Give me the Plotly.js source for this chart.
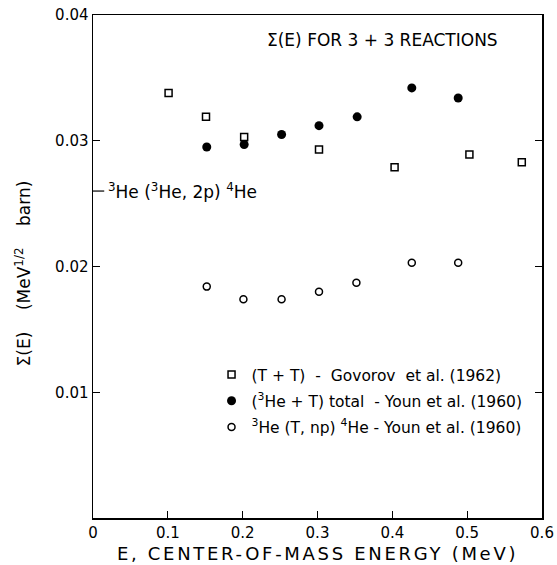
<!DOCTYPE html>
<html><head><meta charset="utf-8">
<script src="https://cdn.plot.ly/plotly-3.0.1.min.js"></script>
<style>html,body{margin:0;padding:0;background:#fff}
.xtitle{letter-spacing:2.7px}
</style>
</head><body>
<div id="chart" style="width:557px;height:565px"></div>
<script>
// Data
const ttEnergy = [0.101, 0.151, 0.202, 0.302, 0.403, 0.503, 0.573];
const ttSigma  = [0.0338, 0.0319, 0.0303, 0.0293, 0.0279, 0.0289, 0.0283];

const heTotEnergy = [0.152, 0.202, 0.252, 0.302, 0.353, 0.426, 0.488];
const heTotSigma  = [0.0295, 0.0297, 0.0305, 0.0312, 0.0319, 0.0342, 0.0334];

const npEnergy = [0.152, 0.201, 0.252, 0.302, 0.352, 0.426, 0.488];
const npSigma  = [0.0184, 0.0174, 0.0174, 0.0180, 0.0187, 0.0203, 0.0203];

const NB = '\u00a0';
const seriesNames = [
  '(T + T)' + NB + ' - ' + NB + 'Govorov' + NB + NB + 'et al. (1962)',
  '(<sup>3</sup>He + T) total' + NB + ' - Youn et al. (1960)',
  '<sup>3</sup>He (T, np) <sup>4</sup>He - Youn et al. (1960)'
];
const heHeLevel = 0.026;
const heHeLabel = '<sup>3</sup>He (<sup>3</sup>He, 2p) <sup>4</sup>He';
const xTicks = [0, 0.1, 0.2, 0.3, 0.4, 0.5, 0.6];
const xTickText = ['0', '0.1', '0.2', '0.3', '0.4', '0.5', '0.6'];
const yTicks = [0.01, 0.02, 0.03, 0.04];
const yTickText = ['0.01', '0.02', '0.03', '0.04'];

const FONT = 'DejaVu Sans, Liberation Sans, sans-serif';
const traces = [
  {x: ttEnergy, y: ttSigma, name: seriesNames[0], legendgroup: 'a', type: 'scatter', mode: 'markers',
   marker: {symbol: 'square-open', size: 7, color: '#000', line: {width: 1.5, color: '#000'}}},
  {x: heTotEnergy, y: heTotSigma, name: seriesNames[1], legendgroup: 'b', type: 'scatter', mode: 'markers',
   marker: {symbol: 'circle', size: 9, color: '#000'}},
  {x: npEnergy, y: npSigma, name: seriesNames[2], legendgroup: 'c', type: 'scatter', mode: 'markers',
   marker: {symbol: 'circle-open', size: 7, color: '#000', line: {width: 1.5, color: '#000'}}}
];

const layout = {
  width: 557, height: 565,
  margin: {l: 93, r: 15, t: 15, b: 47},
  paper_bgcolor: '#fff', plot_bgcolor: '#fff',
  font: {family: FONT, size: 14, color: '#000'},
  showlegend: true,
  legend: {x: 0.264, y: 0.318, xanchor: 'left', yanchor: 'top', bgcolor: 'rgba(0,0,0,0)',
           font: {family: FONT, size: 15.5, color: '#000'}, traceorder: 'grouped',
           tracegroupgap: 3, itemwidth: 30},
  xaxis: {range: [0, 0.6], tickvals: xTicks, ticktext: xTickText, ticks: 'inside', ticklen: 7,
          tickwidth: 1.2, tickcolor: '#000', showline: true, linewidth: 1.5, linecolor: '#000',
          mirror: true, showgrid: false, zeroline: false,
          title: {text: 'E,' + NB + 'CENTER-OF-MASS ENERGY (MeV)', font: {family: FONT, size: 18}, standoff: 7},
          tickfont: {family: FONT, size: 15}},
  yaxis: {range: [0, 0.04], tickvals: yTicks, ticktext: yTickText, ticks: 'inside', ticklen: 7,
          tickwidth: 1.2, tickcolor: '#000', showline: true, linewidth: 1.5, linecolor: '#000',
          mirror: 'ticks', showgrid: false, zeroline: false,
          tickfont: {family: FONT, size: 15}},
  shapes: [
    {type: 'line', xref: 'paper', yref: 'y', x0: 0, x1: 0.025, y0: heHeLevel, y1: heHeLevel,
     line: {color: '#000', width: 1.2}}
  ],
  annotations: [
    {text: 'Σ(E) FOR 3 + 3 REACTIONS', xref: 'paper', yref: 'paper', x: 0.644, y: 0.95,
     xanchor: 'center', yanchor: 'middle', showarrow: false, font: {family: FONT, size: 17}},
    {text: heHeLabel, xref: 'paper', yref: 'y', x: 0.028, y: heHeLevel, xanchor: 'left',
     yanchor: 'middle', showarrow: false, font: {family: FONT, size: 17}},
    {text: 'Σ(E)' + NB.repeat(4) + '(MeV<sup>1/2</sup>' + NB.repeat(4) + 'barn)', xref: 'paper', yref: 'paper',
     x: -0.155, y: 0.487, xanchor: 'center', yanchor: 'middle', textangle: -90, showarrow: false,
     font: {family: FONT, size: 17}}
  ]
};
Plotly.newPlot('chart', traces, layout, {displayModeBar: false, staticPlot: true});
</script>
</body></html>
